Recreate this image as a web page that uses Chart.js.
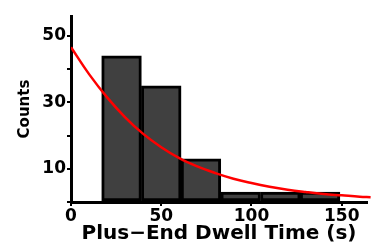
<!DOCTYPE html>
<html>
<head>
<meta charset="utf-8">
<script src="https://cdn.jsdelivr.net/npm/chart.js@4.4.1/dist/chart.umd.min.js"></script>
<style>
  html, body { margin: 0; padding: 0; background: #fff; }
  #wrap { width: 375px; height: 249px; }
</style>
</head>
<body>
<div id="wrap"><canvas id="dwellChart" width="375" height="249"></canvas></div>
<script>
// histogram bins (centres, seconds) and counts
const binCenters = [28, 50, 72, 94, 116, 138];
const binCounts = [44, 35, 13, 3, 3, 3];

// exponential fit
const fitTimes = [0, 10, 20, 30, 40, 50, 60, 70, 80, 90, 100, 110, 120, 130, 140, 150, 160, 166];
const fitCounts = [46.6, 38.5, 31.5, 25.5, 20.5, 16.5, 13.2, 10.7, 8.7, 7.0, 5.7, 4.6, 3.7, 3.0, 2.4, 2.0, 1.6, 1.45];

const yLabelled = [10, 30, 50];

const boldFont = (size) => ({ family: '"DejaVu Sans", Arial, sans-serif', size: size, weight: 'bold' });

document.addEventListener('DOMContentLoaded', function () {
    const canvas = document.getElementById('dwellChart');

    new Chart(canvas.getContext('2d'), {
        type: 'bar',
        data: {
            datasets: [{
                type: 'line',
                data: fitTimes.map((t, i) => ({ x: t, y: fitCounts[i] })),
                borderColor: '#ff0000',
                borderWidth: 2.5,
                pointRadius: 0,
                tension: 0.4,
                fill: false,
                clip: { left: 0, right: 8, top: 0, bottom: 0 },
                order: 0
            }, {
                data: binCenters.map((c, i) => ({ x: c, y: binCounts[i] })),
                backgroundColor: '#404040',
                borderColor: '#000000',
                borderWidth: 3,
                borderSkipped: false,
                barPercentage: 1,
                categoryPercentage: 1,
                order: 1
            }]
        },
        options: {
            responsive: false,
            animation: false,
            layout: { padding: { left: 0, right: 8, top: 16, bottom: 0 } },
            plugins: {
                legend: { display: false },
                tooltip: { enabled: false }
            },
            scales: {
                x: {
                    type: 'linear',
                    min: 0,
                    max: 164,
                    offset: false,
                    afterFit: function (scale) { scale.height = 47; },
                    border: { color: '#000', width: 3 },
                    grid: { display: true, drawOnChartArea: false, offset: false, color: '#000', lineWidth: 2, tickLength: 4 },
                    ticks: {
                        stepSize: 50,
                        includeBounds: false,
                        color: '#000',
                        font: boldFont(17),
                        padding: 0,
                        maxRotation: 0
                    },
                    title: {
                        display: true,
                        text: 'Plus\u2212End Dwell Time (s)',
                        color: '#000',
                        font: boldFont(20),
                        padding: { top: 0, bottom: 3 }
                    }
                },
                y: {
                    min: 0,
                    max: 56,
                    afterFit: function (scale) { scale.width = 71; },
                    border: { color: '#000', width: 3 },
                    grid: { display: true, drawOnChartArea: false, color: '#000', lineWidth: 2, tickLength: 4 },
                    ticks: {
                        stepSize: 10,
                        includeBounds: false,
                        color: '#000',
                        font: boldFont(17),
                        padding: 1,
                        callback: function (value) {
                            return yLabelled.includes(value) ? String(value) : '';
                        }
                    },
                    title: {
                        display: true,
                        text: 'Counts',
                        color: '#000',
                        font: boldFont(15),
                        padding: { top: 16, bottom: 0 }
                    }
                }
            }
        }
    });
});
</script>
</body>
</html>
